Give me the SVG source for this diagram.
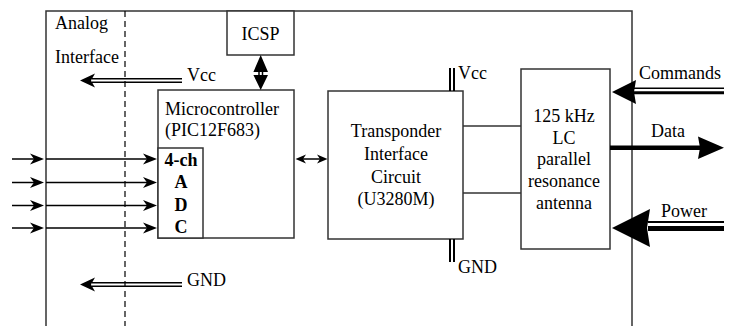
<svg xmlns="http://www.w3.org/2000/svg" xmlns:xlink="http://www.w3.org/1999/xlink" width="736" height="326" viewBox="0 0 736 326">
<style>
text{font-family:"Liberation Serif","Times New Roman",serif;font-size:18px;fill:#000}
.b{font-weight:bold}
.m{text-anchor:middle}
.box{fill:#fff;stroke:#333;stroke-width:1.5}
.ln{stroke:#333;stroke-width:1.5;fill:none}
.thin{stroke:#000;stroke-width:1.5;fill:none}
.dash{stroke:#000;stroke-width:1.2;stroke-dasharray:6 4;fill:none}
.hd{fill:#000}
</style>
<defs>
<path id="barbS" d="M0,0 L-14,-5.5 L-10,0 L-14,5.5 Z"/>
<path id="barbM" d="M0,0 L-15,-7 L-11,0 L-15,7 Z"/>
</defs>
<g id="frame">
<path class="ln" d="M46,326 V11 H632 V326"/>
<line class="dash" x1="125" y1="11" x2="125" y2="326"/>
<text x="55" y="29">Analog</text>
<text x="55" y="63">Interface</text>
</g>
<g id="icsp">
<rect class="box" x="227" y="11" width="67" height="44"/>
<text class="m" x="260.5" y="40">ICSP</text>
</g>
<g id="microcontroller">
<rect class="box" x="158" y="90" width="136" height="148"/>
<text x="165" y="115">Microcontroller</text>
<text x="165" y="136">(PIC12F683)</text>
<rect class="box" x="158" y="148" width="45" height="90"/>
<text class="b m" x="181" y="166">4-ch</text>
<text class="b m" x="181" y="188">A</text>
<text class="b m" x="181" y="211">D</text>
<text class="b m" x="181" y="233">C</text>
</g>
<g id="transponder">
<rect class="box" x="328" y="91" width="135" height="148"/>
<text class="m" x="396" y="137">Transponder</text>
<text class="m" x="396" y="160">Interface</text>
<text class="m" x="396" y="183">Circuit</text>
<text class="m" x="396" y="205">(U3280M)</text>
</g>
<g id="antenna">
<rect class="box" x="521" y="69" width="89" height="180"/>
<text class="m" x="564" y="122">125 kHz</text>
<text class="m" x="564" y="143.5">LC</text>
<text class="m" x="564" y="165">parallel</text>
<text class="m" x="564" y="187">resonance</text>
<text class="m" x="564" y="209">antenna</text>
</g>
<g id="labels">
<text x="187" y="81">Vcc</text>
<text x="187" y="286">GND</text>
<text x="458" y="79">Vcc</text>
<text x="458" y="273">GND</text>
<text x="639" y="79">Commands</text>
<text x="651" y="137">Data</text>
<text x="661" y="217">Power</text>
</g>
<g id="connectors">
<g class="thin">
<line x1="12" y1="159" x2="36" y2="159"/><line x1="46" y1="159" x2="150" y2="159"/>
<line x1="12" y1="182.5" x2="36" y2="182.5"/><line x1="46" y1="182.5" x2="150" y2="182.5"/>
<line x1="12" y1="205.5" x2="36" y2="205.5"/><line x1="46" y1="205.5" x2="150" y2="205.5"/>
<line x1="12" y1="228" x2="36" y2="228"/><line x1="46" y1="228" x2="150" y2="228"/>
</g>
<g class="hd">
<use xlink:href="#barbS" transform="translate(44,159)"/><use xlink:href="#barbS" transform="translate(157,159)"/>
<use xlink:href="#barbS" transform="translate(44,182.5)"/><use xlink:href="#barbS" transform="translate(157,182.5)"/>
<use xlink:href="#barbS" transform="translate(44,205.5)"/><use xlink:href="#barbS" transform="translate(157,205.5)"/>
<use xlink:href="#barbS" transform="translate(44,228)"/><use xlink:href="#barbS" transform="translate(157,228)"/>
</g>
<g stroke="#000" stroke-width="1.5">
<line x1="92" y1="78.8" x2="182" y2="78.8"/><line x1="92" y1="82.2" x2="182" y2="82.2"/>
<line x1="92" y1="282.8" x2="182" y2="282.8"/><line x1="92" y1="286.2" x2="182" y2="286.2"/>
</g>
<g class="hd">
<use xlink:href="#barbM" transform="translate(80,80.5) rotate(180)"/>
<use xlink:href="#barbM" transform="translate(80,284.5) rotate(180)"/>
</g>
<g stroke="#000" stroke-width="1.5">
<line x1="259" y1="68" x2="259" y2="78"/><line x1="262.5" y1="68" x2="262.5" y2="78"/>
</g>
<path class="hd" d="M260.7,55 L268,72 L253.4,72 Z M260.7,90 L268,75 L253.4,75 Z"/>
<line class="thin" x1="300" y1="159" x2="323" y2="159"/>
<path class="hd" d="M295.5,159 L306,154.5 L303,159 L306,163.5 Z M327.5,159 L317,154.5 L320,159 L317,163.5 Z"/>
<g stroke="#000" stroke-width="2">
<line x1="450" y1="68" x2="450" y2="91"/><line x1="454" y1="68" x2="454" y2="91"/>
<line x1="450" y1="239" x2="450" y2="262"/><line x1="454" y1="239" x2="454" y2="262"/>
</g>
<line class="ln" x1="463" y1="126" x2="521" y2="126"/>
<line class="ln" x1="463" y1="193" x2="521" y2="193"/>
<line x1="634" y1="88.3" x2="724" y2="88.3" stroke="#000" stroke-width="1.5"/>
<line x1="634" y1="92.7" x2="724" y2="92.7" stroke="#000" stroke-width="3"/>
<path class="hd" d="M612,92 L636,80 L634,92 L636,104 Z"/>
<line x1="610" y1="147.7" x2="700" y2="147.7" stroke="#000" stroke-width="4.5"/>
<path class="hd" d="M724,147.7 L698,136.5 L700,147.7 L698,159 Z"/>
<line x1="648" y1="222" x2="724" y2="222" stroke="#000" stroke-width="2"/>
<line x1="648" y1="228.5" x2="724" y2="228.5" stroke="#000" stroke-width="5"/>
<path class="hd" d="M612,228 L650,209 L647,228 L650,247 Z"/>
</g>
</svg>
